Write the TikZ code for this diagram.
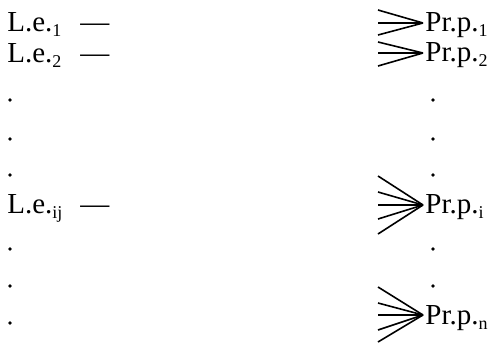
\documentclass[tikz,border=0pt]{standalone}
\usepackage{fontspec}
\setmainfont{Liberation Serif}
\usetikzlibrary{calc}
\newcommand{\lsub}[1]{\raisebox{-2.5pt}{\fontsize{9}{9}\selectfont #1}}

\begin{document}
\begin{tikzpicture}[x=0.5pt,y=-0.5pt,
    lbl/.style={inner sep=0pt, anchor=base west, font=\fontsize{14.5}{17}\selectfont},
    dotmark/.style={circle, fill, inner sep=0pt, minimum size=1.8pt},
    fan/.style={line width=0.8pt}]
  \useasboundingbox (0,0) rectangle (499,343);

  % Left column
  \node[lbl] (le1) at (7,31) {L.e.\lsub{1}};
  \node[lbl] (le2) at (7,62) {L.e.\lsub{2}};
  \node[lbl] (leij) at (7,213) {L.e.\lsub{ij}};
  \node[lbl] (dash1) at (80,31) {---};
  \node[lbl] (dash2) at (80,62) {---};
  \node[lbl] (dashij) at (80,213) {---};
  \foreach \y [count=\i] in {100,139,175,249,286,323}
    \node[dotmark] (ld\i) at (10,\y) {};

  % Right column
  \node[lbl] (pr1) at (425,31) {Pr.p.\lsub{1}};
  \node[lbl] (pr2) at (425,61) {Pr.p.\lsub{2}};
  \node[lbl] (pri) at (425,213) {Pr.p.\lsub{i}};
  \node[lbl] (prn) at (425,324) {Pr.p.\lsub{n}};
  \foreach \y [count=\i] in {100,139,175,249,286}
    \node[dotmark] (rd\i) at (433,\y) {};

  % Fans into the right labels
  \coordinate (t1) at ($(pr1.base west)+(-2,-8)$);
  \coordinate (t2) at ($(pr2.base west)+(-2,-8)$);
  \coordinate (ti) at ($(pri.base west)+(-2,-8)$);
  \coordinate (tn) at ($(prn.base west)+(-2,-9)$);
  \foreach \o in {-13,0,12}
    \draw[fan] (t1) -- ++(-45,\o);
  \foreach \o in {-11,0,13}
    \draw[fan] (t2) -- ++(-45,\o);
  \foreach \o in {-29,-13,0,14,29}
    \draw[fan] (ti) -- ++(-45,\o);
  \foreach \o in {-28,-12,0,15,27}
    \draw[fan] (tn) -- ++(-45,\o);
\end{tikzpicture}
\end{document}
